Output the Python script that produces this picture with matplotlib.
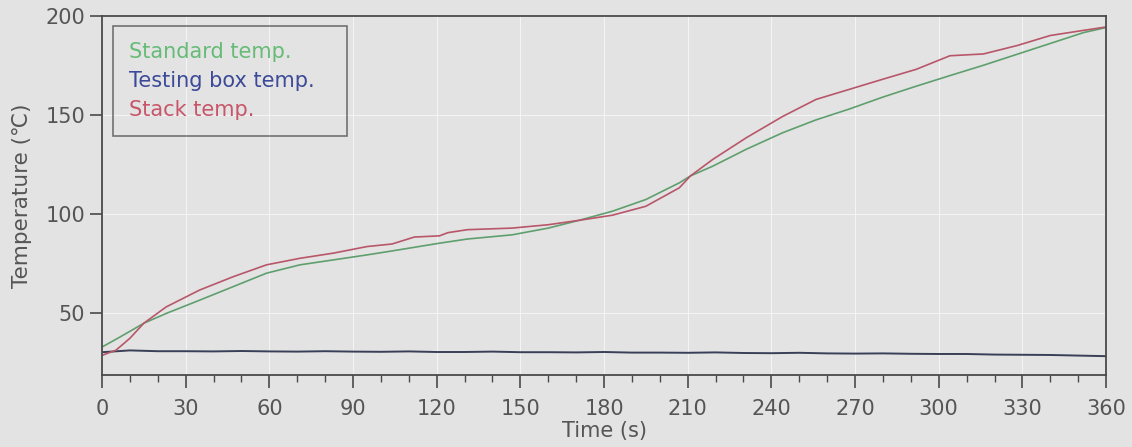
import matplotlib
matplotlib.use("Agg")
import matplotlib.pyplot as plt
from matplotlib.ticker import MultipleLocator

# ---- data ----
t_std = [0, 5, 10, 15, 23, 35, 47, 59, 71, 83, 95, 104, 121, 131, 147, 160, 171,
         183, 195, 207, 211, 219, 231, 244, 256, 268, 280, 292, 304, 316, 328,
         340, 352, 360]
standard = [33.1, 37.0, 41.0, 45.1, 50.0, 56.7, 63.5, 70.3, 74.5, 77.0, 79.5,
            81.5, 85.4, 87.5, 89.6, 93.0, 96.9, 101.5, 107.4, 115.8, 119.3,
            124.2, 132.7, 141.0, 147.5, 153.0, 159.0, 164.5, 169.8, 175.0,
            180.5, 186.0, 191.5, 194.0]

t_stack = [0, 5, 10, 15, 23, 35, 47, 59, 71, 83, 95, 104, 112, 121, 124, 131,
           147, 160, 171, 183, 195, 207, 211, 219, 231, 244, 256, 268, 280,
           292, 304, 316, 328, 340, 352, 360]
stack = [28.9, 31.5, 37.5, 45.1, 53.3, 61.8, 68.5, 74.5, 77.8, 80.4, 83.7,
         85.0, 88.5, 89.1, 90.7, 92.2, 93.0, 94.7, 96.9, 99.5, 104.0, 113.3,
         119.3, 127.6, 138.5, 149.2, 157.8, 162.9, 168.0, 173.0, 179.8, 180.7,
         184.9, 190.0, 192.6, 194.3]

t_box = list(range(0, 361, 10))
box = [30.5, 31.4, 31.0, 31.0, 30.9, 31.1, 30.9, 30.8, 31.0, 30.8, 30.7, 30.9,
       30.6, 30.6, 30.8, 30.5, 30.5, 30.4, 30.6, 30.3, 30.3, 30.2, 30.4, 30.1,
       30.0, 30.2, 29.9, 29.8, 29.9, 29.7, 29.6, 29.6, 29.3, 29.2, 29.1, 28.8,
       28.5]

labels = ["Standard temp.", "Testing box temp.", "Stack temp."]
x_ticks = list(range(0, 361, 30))
y_ticks = [50, 100, 150, 200]

# ---- figure ----
bg = "#e3e3e3"
fig = plt.figure(figsize=(11.32, 4.47), dpi=100, facecolor=bg)
ax = fig.add_axes([0.0901, 0.161, 0.887, 0.804], facecolor=bg)

c_std, c_box, c_stack = "#5f9f6e", "#3a3f58", "#b8566a"
ax.plot(t_std, standard, color=c_std, lw=1.2, label=labels[0])
ax.plot(t_box, box, color=c_box, lw=1.4, label=labels[1])
ax.plot(t_stack, stack, color=c_stack, lw=1.2, label=labels[2])

ax.set_xlim(0, 360)
ax.set_ylim(19, 200)
ax.set_xticks(x_ticks)
ax.xaxis.set_minor_locator(MultipleLocator(10))
ax.set_yticks(y_ticks)

ax.grid(True, which="major", color="#f4f4f4", lw=0.8)
ax.set_axisbelow(True)

for s in ax.spines.values():
    s.set_color("#4a4a4a")
    s.set_linewidth(1.3)

tick_col = "#555555"
ax.tick_params(axis="x", which="major", direction="out", length=9, width=1.2,
               colors="#4a4a4a", labelcolor=tick_col, labelsize=15, pad=8)
ax.tick_params(axis="x", which="minor", direction="out", length=5, width=1.0,
               colors="#4a4a4a")
ax.tick_params(axis="y", which="major", direction="out", length=9, width=1.2,
               colors="#4a4a4a", labelcolor=tick_col, labelsize=15, pad=3)

ax.set_xlabel("Time (s)", fontsize=15, color=tick_col, labelpad=2)
ax.set_ylabel("Temperature (℃)", fontsize=15.5, color=tick_col, labelpad=10,
              family=["DejaVu Sans", "Noto Sans CJK SC"])

leg = ax.legend(loc="upper left", bbox_to_anchor=(0.011, 0.971, 0.233, 0.0),
                mode="expand", handlelength=0, handletextpad=0,
                borderpad=0.75, labelspacing=0.45, fontsize=15,
                frameon=True, fancybox=False, borderaxespad=0)
leg.get_frame().set_edgecolor("#555555")
leg.get_frame().set_facecolor("none")
leg.get_frame().set_linewidth(1.2)
text_cols = ["#66bb77", "#3c4a98", "#c8566a"]
for txt, col in zip(leg.get_texts(), text_cols):
    txt.set_color(col)
for h in leg.legend_handles:
    h.set_visible(False)

fig.savefig("out.png", dpi=100, facecolor=bg)
